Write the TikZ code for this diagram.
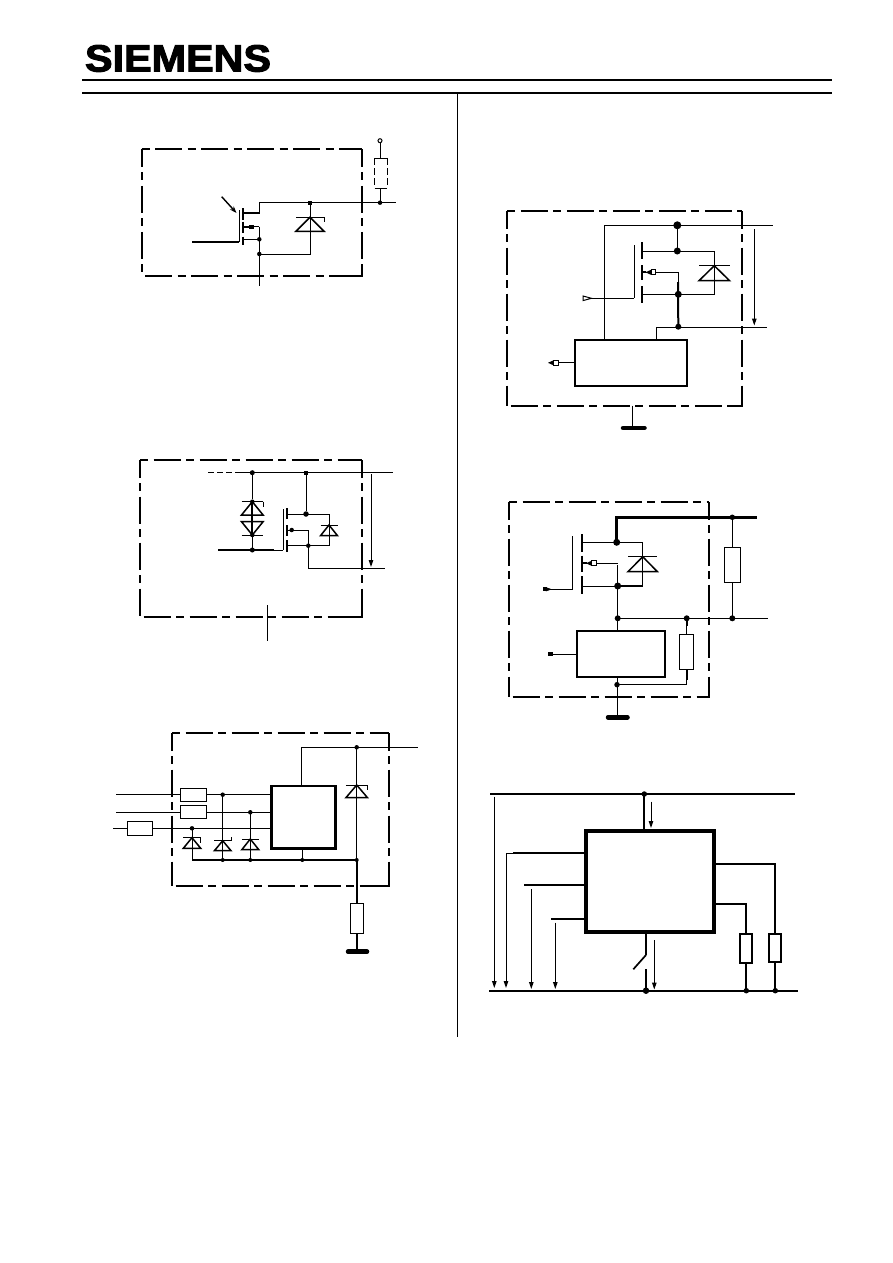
\documentclass[tikz,border=0pt]{standalone}
\usepackage{fontspec}
\usepackage{graphicx}
\usetikzlibrary{arrows.meta}
\newfontfamily\logofont[FakeBold=2.6]{Liberation Sans Bold}
\tikzset{
  wire/.style={line width=1pt,black},
  heavy/.style={line width=2pt,black},
  frame/.style={line width=2pt,black,dash pattern=on 8pt off 5.5pt on 27pt off 5.5pt},
  dot/.style={circle,fill=black,draw=none,inner sep=0pt,outer sep=0pt,minimum size=5pt},
  bigdot/.style={dot,minimum size=8pt},
  res/.style={rectangle,draw=black,fill=white,line width=1pt,inner sep=0pt,outer sep=0pt},
  icbox/.style={rectangle,draw=black,line width=2pt,inner sep=0pt,outer sep=0pt},
  gnd/.style={line width=4.5pt,black,line cap=round},
  vtip/.style={-{Triangle[length=7pt,width=4.5pt]},line width=1pt,black},
  opentip/.style={line width=1pt,black,fill=white},
  solidtip/.style={fill=black,draw=black,line width=.5pt},
}
% corner coordinates of a dashed housing: left top right bottom
\newcommand{\housing}[4]{%
  \draw[frame] (#1,#2) -- (#3,#2);
  \draw[frame,dash phase=23pt] (#1,#2) -- (#1,#4);
  \draw[frame,dash phase=23pt] (#3,#2) -- (#3,#4);
  \draw[frame,dash phase=10pt] (#1,#4) -- (#3,#4);
  \draw[heavy,line join=miter] (#3-10,#4) -- (#3,#4) -- (#3,#4-6);
}
% diode: x, bar y, base y, half width
\newcommand{\diodeshape}[4]{%
  \draw[line width=1.5pt,black,line join=miter] (#1-#4,#3) -- (#1,#2) -- (#1+#4,#3) -- cycle;
  \draw[wire] (#1-#4,#2) -- (#1+#4,#2);
}
% zener tick at right bar end: x+hw, bar y
\newcommand{\zentick}[2]{\draw[wire] (#1,#2) -- (#1,#2+5);}
% arrow pointing left: dark tip from x, open tail; x, y
\newcommand{\leftflag}[2]{%
  \fill[black] (#1,#2) -- (#1+5.5,#2-2.5) -- (#1+5.5,#2+2.5) -- cycle;
  \draw[opentip] (#1+5.5,#2-2.5) rectangle (#1+10,#2+2.5);
}
\begin{document}
\begin{tikzpicture}[x=1pt,y=-1pt]
\useasboundingbox (0,0) rectangle (892,1263);
\fill[white] (0,0) rectangle (892,1263);

% ---------- header ----------
\node[inner sep=0pt,outer sep=0pt,anchor=north west] (logo) at (85,45)
  {\resizebox{186pt}{26.5pt}{\logofont SIEMENS}};
\coordinate (hA) at (82,80); \coordinate (hB) at (832,80);
\coordinate (hC) at (82,93); \coordinate (hD) at (832,93);
\draw[heavy] (hA) -- (hB);
\draw[heavy] (hC) -- (hD);
\coordinate (vA) at (457.5,93); \coordinate (vB) at (457.5,1037);
\draw[wire] (vA) -- (vB);

% ---------- diagram 1 ----------
\housing{141.7}{149.3}{362.3}{276}
\node[circle,draw=black,fill=white,line width=1pt,inner sep=0pt,minimum size=4pt] (a1top) at (380,140.7) {};
\node[rectangle,inner sep=0pt,outer sep=0pt,minimum width=12.6pt,minimum height=30pt] (a1r) at (381,173.3) {};
\draw[wire] (a1r.north west) -- (a1r.north east);
\draw[wire] (a1r.south west) -- (a1r.south east);
\draw[wire,dash pattern=on 7pt off 3pt] (a1r.north west) -- (a1r.south west);
\draw[wire,dash pattern=on 7pt off 3pt] (a1r.north east) -- (a1r.south east);
\node[dot,minimum size=4.5pt] (a1j) at (380,202.7) {};
\node[rectangle,fill=black,inner sep=0pt,minimum size=4pt] (a1d) at (310,202.7) {};
\coordinate (a1dc) at (259.3,202.7);
\coordinate (a1out) at (396,202.7);
\draw[wire] (a1top) -- (380,158.3);
\draw[wire] (380,188.3) -- (a1j.center);
\draw[wire] (a1dc) -- (a1out);
\draw[wire] (259.3,202.7) -- (259.3,213.3);
\draw[heavy] (259.8,213.3) -- (243.5,213.3);
\draw[heavy] (242.7,208) -- (242.7,220);
\draw[heavy] (242.7,221.7) -- (242.7,233.3);
\draw[heavy] (242.7,236.7) -- (242.7,245);
\draw[wire] (239.3,210) -- (239.3,241.7);
\coordinate (a1g) at (192,241.7);
\draw[heavy] (a1g) -- (239.3,241.7);
\fill (249,224.5) rectangle (254,229);
\draw[heavy] (243,226.7) -- (250,226.7);
\draw[wire] (250,226.7) -- (259.3,226.7);
\node[dot,minimum size=4.5pt] (a1s) at (259.3,239.3) {};
\node[dot,minimum size=4.5pt] (a1k) at (259.3,254) {};
\coordinate (a1bot) at (259.3,286);
\draw[wire] (259.3,226.7) -- (a1bot);
\draw[wire] (243,239.3) -- (a1s.center);
\draw[wire] (a1k.center) -- (310,254) -- (a1d.center);
\diodeshape{310}{217.3}{231.3}{14}
\zentick{324.5}{217.3}
\draw[line width=1.4pt,-{Stealth[length=7pt,width=5pt]}] (221.7,196.7) -- (236.5,213);

% ---------- diagram 2 ----------
\housing{140}{460}{362.3}{616.7}
\node[dot,minimum size=5pt] (b1) at (252.3,472.7) {};
\node[rectangle,fill=black,inner sep=0pt,minimum size=4pt] (b2) at (306,472.7) {};
\coordinate (b3) at (238,472.7);
\coordinate (b4) at (393.3,472.7);
\draw[wire] (b3) -- (b4);
\draw[wire,dash pattern=on 6pt off 3pt] (208.3,472.7) -- (b3);
\node[dot,minimum size=5pt] (b5) at (252.3,550) {};
\node[dot,minimum size=4.5pt] (b6) at (252.3,501.7) {};
\node[dot,minimum size=4.5pt] (b7) at (252.3,535) {};
\draw[wire] (b1) -- (b6);
\draw[heavy] (b6.center) -- (b7.center);
\draw[line width=1.4pt] (b7.center) -- (b5.center);
\diodeshape{252.3}{501.7}{515}{10.8}
\zentick{263.2}{501.7}
\diodeshape{252.3}{535}{521.7}{10.8}
\draw[heavy] (218.3,550) -- (b5.center) -- (274,550);
\draw[wire] (274,550) -- (283.3,550);
\draw[wire] (283.3,509.3) -- (283.3,550);
\draw[heavy] (286.7,508.3) -- (286.7,519.3);
\draw[heavy] (286.7,525) -- (286.7,536);
\draw[heavy] (286.7,540) -- (286.7,551.7);
\node[dot,minimum size=5.5pt] (b8) at (306,514) {};
\node[dot,minimum size=4.5pt] (b9) at (308.3,545.7) {};
\draw[wire] (b2) -- (b8);
\draw[wire] (286.7,514) -- (329.3,514) -- (329.3,545.7) -- (286.7,545.7);
\node[dot,minimum size=4.5pt] (b10) at (291.7,530) {};
\draw[wire] (286.7,530) -- (308.3,530) -- (308.3,568.3) -- (385,568.3);
\diodeshape{329}{525}{535.7}{8.5}
\draw[vtip] (371,474) -- (371,567);
\draw[wire] (267.3,605) -- (267.3,640.7);

% ---------- diagram 3 ----------
\housing{172}{733}{388.7}{886}
\node[icbox,minimum width=63.6pt,minimum height=62.3pt,line width=2.5pt] (c) at (303.5,817.2) {};
\node[res,minimum width=26.4pt,minimum height=13pt] (cr1) at (193.5,794.7) {};
\node[res,minimum width=26.4pt,minimum height=13pt] (cr2) at (193.5,812.3) {};
\node[res,minimum width=25.4pt,minimum height=14pt] (cr3) at (140,828.3) {};
\node[res,minimum width=13.4pt,minimum height=30pt] (cr4) at (356.7,918.3) {};
\node[dot,minimum size=4.5pt] (cj0) at (356.7,747.3) {};
\node[dot,minimum size=4.5pt] (cj1) at (222.7,794.7) {};
\node[dot,minimum size=4.5pt] (cj2) at (250.3,812.3) {};
\node[dot,minimum size=4.5pt] (cj3) at (192,828.3) {};
\node[dot,minimum size=4pt] (cb1) at (222.7,860) {};
\node[dot,minimum size=4pt] (cb2) at (250.3,860) {};
\node[dot,minimum size=4pt] (cb3) at (302.3,860) {};
\node[dot,minimum size=4pt] (cb4) at (356.7,860) {};
\coordinate (cb0) at (192,860);
\coordinate (cout) at (418.3,747.3);
\coordinate (ctop) at (301,747.3);
\coordinate (cin1) at (116,794.7);
\coordinate (cin2) at (116,812.3);
\coordinate (cin3) at (113.3,828.3);
\coordinate (cg) at (356.7,951.7);
\draw[wire] (ctop) -- (cout);
\draw[wire] (ctop) -- (301,786);
\draw[wire] (cin1) -- (cr1.west);
\draw[wire] (cr1.east) -- (271.7,794.7);
\draw[wire] (cin2) -- (cr2.west);
\draw[wire] (cr2.east) -- (271.7,812.3);
\draw[wire] (cin3) -- (cr3.west);
\draw[wire] (cr3.east) -- (271.7,828.3);
\draw[wire] (cj1.center) -- (cb1.center);
\draw[wire] (cj2.center) -- (cb2.center);
\draw[wire] (cj3.center) -- (cb0);
\draw[wire] (302.3,848.3) -- (cb3.center);
\draw[wire] (cj0.center) -- (cb4.center);
\draw[heavy] (cb0) -- (cb4.center);
\draw[heavy] (cb4.center) -- (cr4.north);
\draw[heavy] (cr4.south) -- (cg);
\draw[gnd] (348,951.7) -- (367,951.7);
\diodeshape{192}{837.7}{848.3}{8.7}
\zentick{200.7}{837.7}
\diodeshape{222.7}{840.7}{850.7}{8.3}
\draw[wire] (231,840.7) -- (231,837);
\diodeshape{250.3}{839}{849.7}{8.5}
\diodeshape{356.7}{785}{797.7}{10.8}
\zentick{367.5}{785}

% ---------- diagram 4 ----------
\housing{507.3}{211}{741.7}{405.7}
\node[icbox,minimum width=112.6pt,minimum height=46.3pt] (d) at (631,362.8) {};
\node[bigdot] (dj1) at (677.3,225.3) {};
\node[dot,minimum size=7pt] (dj2) at (677.3,251) {};
\node[dot,minimum size=7pt] (dj3) at (678.3,294.3) {};
\node[dot,minimum size=6pt] (dj4) at (678.3,326.7) {};
\coordinate (dtl) at (604.3,225.3);
\coordinate (dtr) at (773.3,225.3);
\coordinate (dr) at (767.3,327.3);
\coordinate (dl) at (656.3,327.3);
\coordinate (dg) at (632.3,428);
\draw[wire] (dtl) -- (dtr);
\draw[wire] (dtl) -- (604.3,339.7);
\draw[wire] (dj1) -- (dj2);
\draw[wire] (641.7,251) -- (714.3,251) -- (714.3,294.3) -- (641.7,294.3);
\draw[heavy] (641.7,242.3) -- (641.7,259.3);
\draw[heavy] (641.7,265) -- (641.7,280);
\draw[heavy] (641.7,286) -- (641.7,302.7);
\draw[wire] (634,245) -- (634,298.3);
\draw[wire] (590,298.3) -- (634,298.3);
\draw[opentip] (591.5,298.3) -- (583,296) -- (583,300.6) -- cycle;
\draw[wire] (641.7,272.3) -- (678,272.3) -- (678,282);
\draw[heavy] (678,282) -- (dj4.center);
\draw[heavy] (641.7,272.3) -- (646,272.3);
\leftflag{645.5}{272.3}
\diodeshape{714.3}{265.7}{280.7}{15.3}
\draw[wire] (dl) -- (dr);
\draw[wire] (dl) -- (656.3,339.7);
\draw[wire] (556,362.8) -- (d.west);
\leftflag{548}{362.8}
\draw[wire] (632.3,405.7) -- (dg);
\draw[gnd] (623,428) -- (644.5,428);
\draw[vtip] (754.3,229) -- (754.3,325.5);

% ---------- diagram 5 ----------
\housing{509}{502}{709.3}{697.3}
\node[icbox,minimum width=88.3pt,minimum height=46pt] (e) at (621.2,654) {};
\node[res,minimum width=15.4pt,minimum height=35pt] (er1) at (732.3,564.8) {};
\node[res,minimum width=14.4pt,minimum height=35pt] (er2) at (686.7,651.8) {};
\node[dot,minimum size=5.5pt] (ej1) at (732.3,517.3) {};
\node[bigdot,minimum size=7pt] (ej2) at (616.7,542.3) {};
\node[dot,minimum size=7pt] (ej3) at (617.7,586) {};
\node[dot,minimum size=6pt] (ej4) at (617.7,618.3) {};
\node[dot,minimum size=6pt] (ej5) at (686.7,618.3) {};
\node[dot,minimum size=6pt] (ej6) at (732.3,618.3) {};
\node[dot,minimum size=5.5pt] (ej7) at (617,684.7) {};
\coordinate (etr) at (756.7,517.3);
\coordinate (eor) at (767.7,618.3);
\coordinate (eg) at (617,717.3);
\draw[line width=2.5pt] (ej2.center) -- (616.7,517.3) -- (etr);
\draw[wire] (ej1.center) -- (er1.north);
\draw[wire] (er1.south) -- (ej6.center);
\draw[wire] (ej4.center) -- (eor);
\draw[heavy] (582,534.3) -- (582,551.7);
\draw[heavy] (582,555.7) -- (582,571.7);
\draw[heavy] (582,576) -- (582,594);
\draw[wire] (572.7,536) -- (572.7,589.3);
\draw[wire] (550,589.3) -- (572.7,589.3);
\fill (543.3,587.3) rectangle (547,591.3);
\draw[solidtip] (551,589.3) -- (546,587.5) -- (546,591) -- cycle;
\draw[wire] (582,542.3) -- (642.7,542.3) -- (642.7,586);
\draw[wire] (582,586) -- (ej3.center);
\draw[heavy] (ej3.center) -- (642.7,586);
\draw[wire] (582,563.3) -- (617.7,563.3);
\draw[wire] (617.7,565) -- (ej3.center);
\draw[wire] (ej3.center) -- (ej4.center);
\draw[wire] (ej4.center) -- (617.7,631);
\draw[heavy] (582,563.3) -- (587,563.3);
\leftflag{586}{563.3}
\diodeshape{642.7}{556.7}{571.7}{14.7}
\draw[wire] (ej5.center) -- (er2.north);
\draw[wire] (er2.south) -- (686.7,684.7) -- (ej7.center);
\draw[heavy] (686.7,618.3) -- (686.7,626);
\draw[heavy] (686.7,669.3) -- (686.7,680);
\draw[wire] (617,677) -- (eg);
\draw[wire] (552,654) -- (e.west);
\fill[black] (548,652.2) rectangle (553,655.8);
\draw[gnd] (608,717.3) -- (627.5,717.3);

% ---------- diagram 6 ----------
\node[rectangle,draw=black,line width=4pt,inner sep=0pt,outer sep=0pt,minimum width=128pt,minimum height=101.3pt] (f) at (650,881.7) {};
\node[res,line width=1.7pt,minimum width=12pt,minimum height=29.3pt] (fr1) at (746.3,948.3) {};
\node[res,line width=1.7pt,minimum width=12pt,minimum height=28.3pt] (fr2) at (775.3,947.8) {};
\node[dot,minimum size=5.5pt] (fj1) at (644.3,794) {};
\node[dot,minimum size=6.5pt] (fj2) at (646,990.7) {};
\node[dot,minimum size=5.5pt] (fj3) at (746.3,990.7) {};
\node[dot,minimum size=5.5pt] (fj4) at (775.3,990.7) {};
\coordinate (ftl) at (490,794); \coordinate (ftr) at (795,794);
\coordinate (fbl) at (489.3,990.7); \coordinate (fbr) at (798.3,990.7);
\draw[heavy] (ftl) -- (ftr);
\draw[heavy] (fbl) -- (fbr);
\draw[heavy] (fj1.center) -- (644.3,831);
\draw[heavy] (513,853.3) -- (586,853.3);
\draw[wire] (506,853.3) -- (513,853.3);
\draw[heavy] (524.3,885) -- (586,885);
\draw[heavy] (551.3,918.7) -- (586,918.7);
\draw[heavy] (714,864) -- (775.3,864) -- (fr2.north);
\draw[heavy] (fr2.south) -- (fj4.center);
\draw[heavy] (714,903.7) -- (746.3,903.7) -- (fr1.north);
\draw[heavy] (fr1.south) -- (fj3.center);
\draw[heavy] (646,932.3) -- (646,955);
\draw[line width=1.7pt] (646,955) -- (633.3,969.3);
\draw[heavy] (646,969.3) -- (fj2.center);
\draw[vtip] (651,801.7) -- (651,828);
\draw[vtip] (494.3,796.7) -- (494.3,988);
\draw[vtip] (506,853.3) -- (506,988);
\draw[vtip] (531.3,889.3) -- (531.3,989);
\draw[vtip] (555.3,922.7) -- (555.3,989);
\draw[vtip] (654.3,940) -- (654.3,989.5);
\end{tikzpicture}
\end{document}
